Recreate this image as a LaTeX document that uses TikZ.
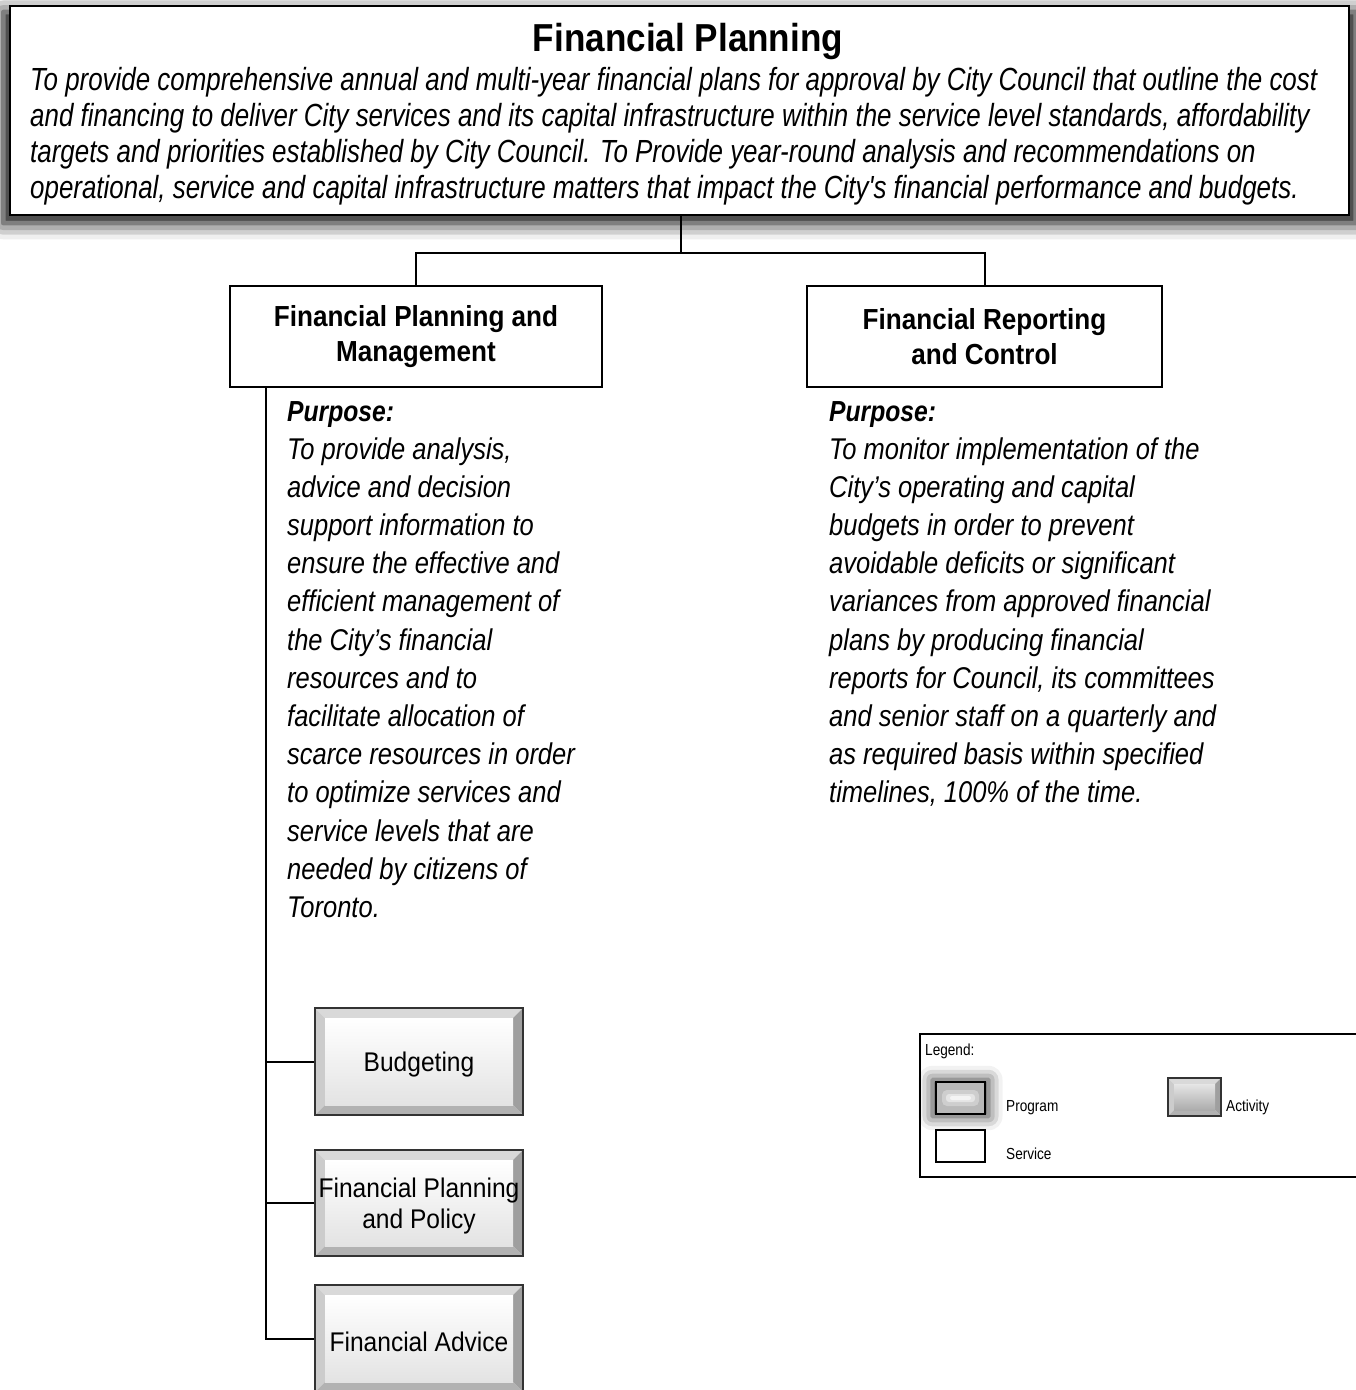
\documentclass[tikz,border=0pt]{standalone}
\usepackage{fontspec}
\setmainfont{Liberation Sans}
\newfontfamily\bfn[FakeStretch=0.9]{Liberation Sans}
\newfontfamily\itn[FakeStretch=0.85]{Liberation Sans}
\newfontfamily\itw[FakeStretch=0.81]{Liberation Sans}
\newfontfamily\rgn[FakeStretch=0.91]{Liberation Sans}
\usetikzlibrary{shadows.blur}
\newcommand\bevelpic[3]{%
  \fill[gray!30] (path picture bounding box.north west) -- (path picture bounding box.north east)
     -- ([xshift=-#1,yshift=-#1]path picture bounding box.north east) -- ([xshift=#1,yshift=-#1]path picture bounding box.north west) -- cycle;
  \fill[gray!40] (path picture bounding box.north west) -- ([xshift=#1,yshift=-#1]path picture bounding box.north west)
     -- ([xshift=#1,yshift=#1]path picture bounding box.south west) -- (path picture bounding box.south west) -- cycle;
  \fill[gray!75] (path picture bounding box.north east) -- (path picture bounding box.south east)
     -- ([xshift=-#1,yshift=#1]path picture bounding box.south east) -- ([xshift=-#1,yshift=-#1]path picture bounding box.north east) -- cycle;
  \fill[gray!60] (path picture bounding box.south west) -- (path picture bounding box.south east)
     -- ([xshift=-#1,yshift=#1]path picture bounding box.south east) -- ([xshift=#1,yshift=#1]path picture bounding box.south west) -- cycle;
  \shade[top color=#2,bottom color=#3] ([xshift=#1,yshift=-#1]path picture bounding box.north west) rectangle ([xshift=-#1,yshift=#1]path picture bounding box.south east);
}
\newcommand\lowered[1]{\raisebox{-3pt}[\height][\depth]{#1}}
\tikzset{
  conn/.style={draw=black, line width=2pt},
  topbox/.style={draw=black, line width=2pt, fill=white, minimum width=1339pt, minimum height=209pt, inner sep=0pt,
     blur shadow={shadow xshift=0pt, shadow yshift=-7pt, shadow blur radius=16pt, shadow opacity=100, shadow scale=1.01}},
  svcbox/.style={draw=black, line width=1.6pt, fill=white, minimum height=101pt, inner sep=0pt, align=center,
     font=\bfn\bfseries\fontsize{29}{35}\selectfont},
  actbox/.style={draw=black!80, line width=2.6pt, minimum width=208pt, minimum height=107pt, inner sep=0pt, align=center,
     font=\rgn\fontsize{27}{31}\selectfont, path picture={\bevelpic{10pt}{white}{gray!22}}},
  toptxt/.style={inner sep=0pt, anchor=base west, font=\itw\itshape\fontsize{32}{36}\selectfont},
  purp/.style={inner sep=0pt, anchor=base west, font=\itn\itshape\fontsize{30}{36}\selectfont},
  purphead/.style={inner sep=0pt, anchor=base west, font=\itn\bfseries\itshape\fontsize{29}{36}\selectfont},
  legtxt/.style={inner sep=0pt, anchor=base west, font=\itn\fontsize{16}{18}\selectfont}
}
\begin{document}
\begin{tikzpicture}[x=1pt,y=-1pt]
\useasboundingbox (0,0) rectangle (1356,1390);
% top program box
\node[topbox] (top) at (679.5,110.5) {};
\node[inner sep=0pt, anchor=base, font=\bfn\bfseries\fontsize{39}{44}\selectfont] (title) at (688,51) {Financial Planning};
\node[toptxt] (t1) at (30,90) {To provide comprehensive annual and multi-year financial plans for approval by City Council that outline the cost};
\node[toptxt] (t2) at (30,126) {and financing to deliver City services and its capital infrastructure within the service level standards, affordability};
\node[toptxt] (t3) at (30,162) {targets and priorities established by City Council. To Provide year-round analysis and recommendations on};
\node[toptxt] (t4) at (30,198) {operational, service and capital infrastructure matters that impact the City's financial performance and budgets.};
% services
\node[svcbox, minimum width=372pt] (fpm) at (416,336.5) {Financial Planning and\\Management};
\node[svcbox, minimum width=355pt] (frc) at (984.5,336.5) {Financial Reporting\\and Control};
\coordinate (j) at (681,253);
\draw[conn, line width=2.6pt] (top.south -| j) -- (j);
\draw[conn] (j) -| (fpm.north);
\draw[conn] (j) -| (frc.north);
% purposes
\node[purphead] (ph1) at (287,421) {Purpose:};
\node[purphead] (ph2) at (829,421) {Purpose:};
\foreach \t [count=\i] in {{To provide analysis,},{advice and decision},{support information to},{ensure the effective and},{efficient management of},{the City’s financial},{resources and to},{facilitate allocation of},{scarce resources in order},{to optimize services and},{service levels that are},{needed by citizens of},{Toronto.}}
  \node[purp] (pl\i) at (287,{459+(\i-1)*38.2}) {\t};
\foreach \t [count=\i] in {{To monitor implementation of the},{City’s operating and capital},{budgets in order to prevent},{avoidable deficits or significant},{variances from approved financial},{plans by producing financial},{reports for Council, its committees},{and senior staff on a quarterly and},{as required basis within specified},{timelines, 100\% of the time.}}
  \node[purp] (pr\i) at (829,{459+(\i-1)*38.2}) {\t};
% activities
\node[actbox] (bud) at (419,1061.5) {\lowered{Budgeting}};
\node[actbox, minimum height=106pt] (fpp) at (419,1203) {\lowered{Financial Planning}\\\lowered{and Policy}};
\node[actbox] (fa) at (419,1338.5) {\lowered{Financial Advice}};
\coordinate (spine) at (266,387);
\draw[conn] (fpm.south -| spine) |- (fa.west);
\draw[conn] (spine |- bud.west) -- (bud.west);
\draw[conn] (spine |- fpp.west) -- (fpp.west);
% legend
\node[draw=black, line width=1.6pt, minimum width=444pt, minimum height=143pt, inner sep=0pt] (legend) at (1142,1105.5) {};
\node[legtxt] (lg) at (925,1055) {Legend:};
\node[draw=black, line width=1.6pt, fill=gray!55, minimum width=49pt, minimum height=32pt, inner sep=0pt,
   blur shadow={shadow xshift=0pt, shadow yshift=0pt, shadow blur radius=12pt, shadow opacity=80, shadow scale=1.15}] (prog) at (960.5,1098) {};
\fill[white, opacity=0.3, rounded corners=5pt] (942,1090) rectangle (979,1106);
\fill[white, opacity=0.45, rounded corners=3pt] (946,1094) rectangle (975,1102);
\fill[white, opacity=0.6, rounded corners=2pt] (950,1096) rectangle (971,1100);
\node[legtxt] (lprog) at (1006,1111) {Program};
\node[draw=black, line width=1.6pt, fill=white, minimum width=49pt, minimum height=32pt, inner sep=0pt] (svc) at (960.5,1146) {};
\node[legtxt] (lsvc) at (1006,1159) {Service};
\node[draw=black!80, line width=2pt, minimum width=53pt, minimum height=38pt, inner sep=0pt,
   path picture={\bevelpic{6pt}{gray!20}{gray!65}}] (act) at (1194.5,1097) {};
\node[legtxt] (lact) at (1226,1111) {Activity};
\end{tikzpicture}
\end{document}
